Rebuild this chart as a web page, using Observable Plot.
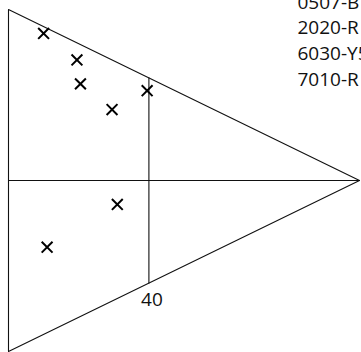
<!DOCTYPE html>
<html>
<head>
<meta charset="utf-8">
<script src="https://cdn.jsdelivr.net/npm/d3@7"></script>
<script src="https://cdn.jsdelivr.net/npm/@observablehq/plot@0.6"></script>
<style>
  html, body { margin: 0; padding: 0; background: #fff; overflow: hidden; }
  svg { display: block; }
</style>
</head>
<body>
<div id="chart"></div>
<script>
// NCS colour triangle: W (white) top-left, S (black) bottom-left, C (full chroma) at the apex.
// Samples given as blackness s and chromaticness c.
const sampleBlackness = [2, 5, 11.5, 4, 14.5, 41.5, 64];
const sampleChroma    = [10, 19.5, 20.5, 39.5, 29.5, 31, 11];

// Notations listed at the top right
const notations = ["0507-B", "2020-R", "6030-Y50R", "7010-R"];

// Chromaticness guide line and its label
const guideChroma = 40;
const guideLabel = "40";

// Triangle corners in (chromaticness, blackness)
const cornerC = [0, 100, 0, 0];
const cornerS = [0, 0, 100, 0];

// vertical position inside the triangle: blackness + half the chromaticness
const pos = (s, c) => s + c / 2;

const triangle = cornerC.map((c, i) => ({c, y: pos(cornerS[i], c)}));
const samples = sampleChroma.map((c, i) => ({c, y: pos(sampleBlackness[i], c)}));
const middle = [{c: 0, y: 50}, {c: 100, y: 50}];
const guide = [{c: guideChroma, y: pos(0, guideChroma)}, {c: guideChroma, y: pos(100 - guideChroma, guideChroma)}];

const chart = Plot.plot({
  width: 361,
  height: 352,
  marginLeft: 8,
  marginRight: 2,
  marginTop: 9,
  marginBottom: 1,
  style: {fontFamily: "'Open Sans', sans-serif", background: "#fff", overflow: "visible"},
  x: {domain: [0, 100], axis: null},
  y: {domain: [0, 100], reverse: true, axis: null},
  marks: [
    Plot.line(triangle, {x: "c", y: "y", stroke: "#111", strokeWidth: 1.1}),
    Plot.line(middle, {x: "c", y: "y", stroke: "#111", strokeWidth: 1.1}),
    Plot.line(guide, {x: "c", y: "y", stroke: "#111", strokeWidth: 1.1}),
    Plot.text([guideLabel], {x: guideChroma, y: pos(100 - guideChroma, guideChroma), text: d => d,
      fontSize: 19, fill: "#111", textAnchor: "middle", lineAnchor: "top", dx: 3, dy: 9}),
    Plot.dot(samples, {x: "c", y: "y", symbol: "times", r: 5, stroke: "#000", strokeWidth: 2}),
    Plot.text([notations.join("\n")], {frameAnchor: "top-left", text: d => d, textAnchor: "start",
      lineAnchor: "top", lineHeight: 1.35, fontSize: 19, fill: "#111", dx: 289, dy: -19})
  ]
});
document.getElementById("chart").append(chart);
</script>
</body>
</html>
